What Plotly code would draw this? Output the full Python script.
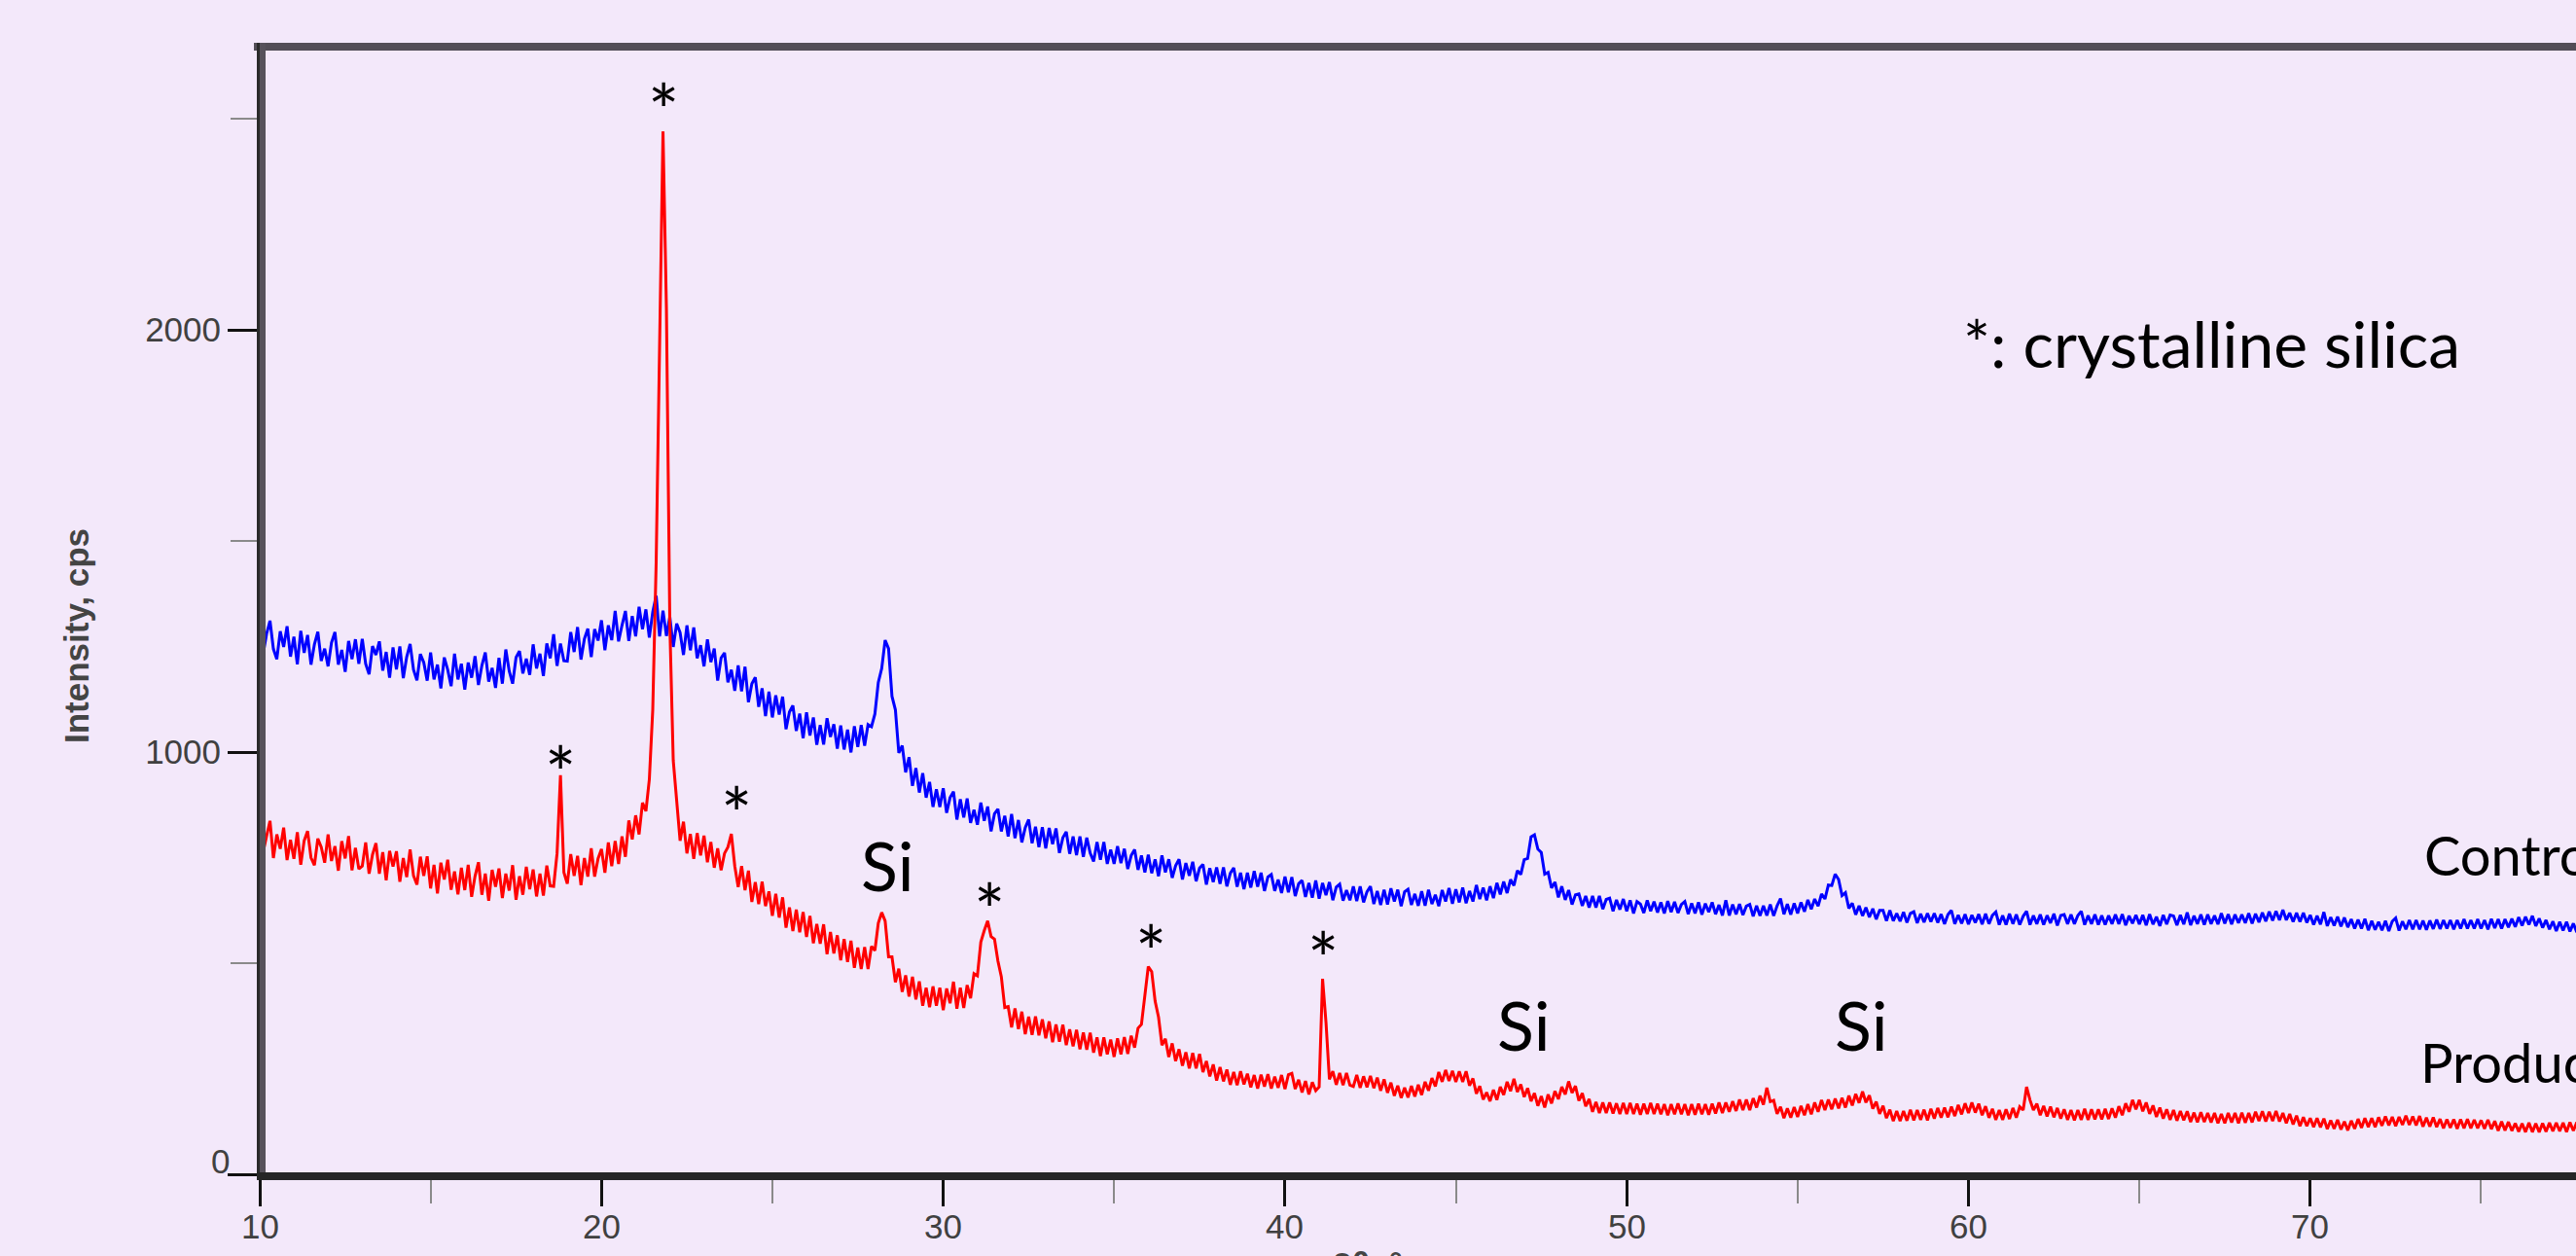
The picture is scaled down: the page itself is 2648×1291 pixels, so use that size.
import plotly.graph_objects as go

# ---------------- data (2theta scan 10.0 .. 78.0, step 0.1 deg) ----------------
THETA_START = 10.0
THETA_STEP = 0.1

ctrl_10s = [
1302,1232,1280,1311,1244,1220,1286,1249,1298,1226,
1273,1208,1287,1235,1277,1207,1255,1285,1216,1245,
1203,1259,1284,1207,1242,1190,1263,1220,1267,1209,
1268,1209,1184,1251,1230,1262,1193,1237,1176,1248,
1196,1250,1175,1225,1256,1195,1170,1232,1212,1169,
1236,1172,1207,1151,1224,1195,1156,1233,1172,1209,
1148,1212,1176,1227,1159,1205,1236,1167,1199,1152,
1223,1162,1243,1192,1162,1224,1239,1186,1221,1183,
1255,1198,1233,1180,1257,1222,1279,1204,1257,1216,
1215,1284,1237,1296,1219,1268,1292,1225,1291,1264]
ctrl_20s = [
1312,1241,1300,1265,1334,1262,1300,1334,1263,1322,
1274,1344,1291,1338,1271,1332,1370,1274,1335,1275,
1320,1249,1304,1283,1230,1300,1241,1295,1222,1253,
1203,1267,1213,1245,1169,1223,1235,1165,1195,1145,
1205,1144,1202,1118,1162,1177,1107,1151,1085,1143,
1082,1134,1089,1131,1054,1095,1110,1050,1091,1033,
1094,1039,1082,1017,1064,1018,1080,1036,1066,1008,
1063,1006,1053,999,1061,1012,1064,1015,1065,1060,
1090,1165,1198,1265,1245,1132,1100,998,1015,952,
988,920,962,904,950,892,929,870,912,870]
ctrl_30s = [
914,856,892,906,840,888,845,890,832,863,
828,880,837,871,812,854,865,812,849,800,
853,796,839,786,821,840,784,823,775,822,
772,820,782,819,761,797,811,759,800,756,
800,752,797,761,741,787,745,787,735,769,
735,777,737,771,723,755,769,721,755,715,
757,713,746,706,755,715,746,702,731,746,
698,737,707,740,694,725,734,686,725,692,
727,688,727,682,713,726,681,714,675,714,
679,718,681,714,671,704,710,671,698,666]
ctrl_40s = [
705,668,704,659,688,696,657,690,655,696,
653,690,661,692,649,680,687,648,673,649,
682,647,682,644,669,682,640,671,638,674,
639,677,646,674,635,669,675,638,664,636,
670,636,674,640,662,635,673,646,678,641,
675,644,679,642,671,646,685,652,679,649,
682,654,690,663,693,666,698,684,719,710,
745,748,799,804,770,762,711,715,678,692,
656,682,650,673,639,662,664,636,659,632,
659,632,659,628,651,654,623,650,627,652]
ctrl_50s = [
623,649,618,646,640,619,649,623,646,620,
644,618,647,621,645,619,639,646,616,642,
618,644,615,641,621,644,616,638,613,649,
613,639,616,640,614,635,639,611,636,612,
636,613,639,612,636,653,616,640,615,642,
618,644,622,650,628,652,635,664,652,685,
684,711,698,660,667,630,642,615,636,612,
632,609,629,604,625,625,600,625,600,618,
599,621,596,618,622,595,617,597,618,598,
618,596,616,593,615,625,593,614,594,616]
ctrl_60s = [
592,614,596,616,592,617,593,613,621,591,
613,591,617,593,615,591,611,623,591,613,
593,615,591,613,595,617,589,613,615,593,
615,593,613,623,591,613,593,615,591,613,
591,613,593,615,593,616,590,612,594,614,
592,614,590,616,592,610,588,614,592,614,
612,590,614,592,620,590,612,593,615,591,
615,593,613,592,618,594,616,592,615,595,
615,595,618,594,617,597,620,599,622,601,
623,602,626,602,619,598,619,598,619,596]
ctrl_70s = [
614,591,612,592,621,588,609,589,610,587,
608,585,604,582,603,582,605,578,600,579,
598,578,600,576,599,607,577,599,580,602,
580,602,580,601,579,601,581,603,581,602,
582,602,580,602,582,604,582,602,582,604,
582,602,580,605,583,604,582,604,585,605,
586,609,589,610,591,612,588,606,584,602,
580,599,576,598,577,598,575,594,573,593,
584]

prod_10s = [
830,763,801,837,749,805,771,821,744,792,
747,810,733,790,813,750,732,795,775,738,
805,742,777,719,789,748,801,720,773,723,
730,786,712,757,784,712,763,696,766,729,
765,693,749,704,769,707,686,752,707,753,
677,733,665,738,698,745,674,717,663,726,
673,733,657,706,739,662,712,648,721,681,
724,654,712,672,732,650,706,662,728,675,
722,658,712,660,731,683,682,760,945,715,
688,758,707,754,685,749,705,772,705,748]
prod_20s = [
770,714,786,730,789,735,800,752,838,793,
850,805,880,860,935,1100,1450,1950,2470,2050,
1300,980,890,790,835,760,806,747,808,755,
802,739,787,726,772,720,760,775,806,730,
680,730,673,719,645,692,640,693,635,670,
612,664,608,656,584,632,576,627,573,621,
562,612,547,593,546,592,521,574,523,566,
507,557,503,553,489,537,486,538,486,540,
530,595,620,600,515,515,455,487,432,471,
421,468,414,457,399,442,396,445,399,442]
prod_30s = [
389,440,405,456,392,442,394,448,417,475,
470,550,577,600,563,557,505,468,395,397,
348,393,344,385,332,373,330,374,329,367,
322,362,313,355,314,354,306,343,303,342,
296,336,295,335,288,324,280,324,284,319,
278,322,284,325,285,328,300,346,355,430,
492,480,410,372,306,321,278,310,268,296,
257,289,251,287,251,285,242,268,232,260,
222,254,220,248,212,242,211,244,213,238,
206,235,203,236,208,237,203,231,205,235]
prod_40s = [
202,236,239,202,224,194,221,189,218,198,
207,463,360,225,244,212,240,211,240,211,
208,235,205,232,206,233,204,229,198,225,
193,217,186,210,181,205,182,209,184,212,
188,219,198,228,208,242,219,247,221,245,
219,244,219,244,210,227,191,209,177,194,
173,200,176,207,188,219,197,226,195,213,
183,204,173,192,162,185,158,189,168,197,
178,207,189,220,193,209,174,192,161,178,
148,171,145,170,145,170,144,168,143,169]
prod_50s = [
143,169,143,167,141,167,143,169,143,167,
142,166,140,166,142,168,142,166,140,166,
141,167,142,166,141,167,144,170,145,170,
148,173,150,177,152,177,152,180,158,186,
165,205,172,175,143,160,133,156,134,159,
136,162,140,166,142,170,148,176,152,177,
154,179,156,181,158,186,163,190,169,196,
170,187,155,172,143,162,133,153,126,150,
126,150,127,153,128,152,129,153,128,155,
132,157,134,158,135,160,138,164,142,168]
prod_60s = [
145,170,146,167,140,161,134,155,129,152,
129,154,131,157,134,160,152,207,176,152,
167,140,162,137,160,135,157,132,154,129,
152,128,152,129,155,129,154,130,154,130,
155,131,156,134,161,140,168,148,176,154,
176,149,170,143,163,136,158,132,154,129,
152,127,150,128,149,124,146,123,147,124,
145,123,145,121,143,121,145,123,145,121,
146,122,145,123,148,126,149,125,148,126,
150,125,145,121,143,118,139,114,135,114]
prod_70s = [
133,112,133,111,132,107,128,108,129,106,
125,104,127,108,131,110,133,112,133,112,
135,115,137,116,136,114,136,117,139,117,
137,116,138,113,134,113,135,112,131,109,
130,110,130,108,130,109,131,109,129,109,
128,108,129,107,126,103,125,104,124,103,
121,101,120,100,122,100,120,100,121,101,
122,102,122,102,122,100,123,103,123,103,
113]

x_tickvals = [10, 20, 30, 40, 50, 60, 70, 80]
x_ticktext = ["10", "20", "30", "40", "50", "60", "70", "80"]
x_minor = [15, 25, 35, 45, 55, 65, 75]
y_tickvals = [0, 1000, 2000]
y_ticktext = ["", "1000", "2000"]
y_minor = [500, 1500, 2500]

# annotation labels (x in deg, y in cps)
star_marks = [(21.81, 2560), (18.80, 991), (23.95, 896), (31.35, 666), (36.07, 569), (41.11, 551)]
si_marks = [(28.37, 733), (46.98, 355), (56.85, 355)]

# ---------------- build ----------------
control = ctrl_10s + ctrl_20s + ctrl_30s + ctrl_40s + ctrl_50s + ctrl_60s + ctrl_70s
product = prod_10s + prod_20s + prod_30s + prod_40s + prod_50s + prod_60s + prod_70s
theta = [round(THETA_START + THETA_STEP * i, 1) for i in range(len(control))]

BG = "#f3e8fa"
W, H = 2648, 1291
ML, MR, MT, MB = 267, 0, 48, 84
PW, PH = W - ML - MR, H - MT - MB
X_MAX = 10 + PW / 35.13

fig = go.Figure()
fig.add_trace(go.Scatter(x=theta, y=control, mode="lines",
                         line=dict(color="#0000ff", width=3), name="Control"))
fig.add_trace(go.Scatter(x=theta, y=product, mode="lines",
                         line=dict(color="#ff0000", width=3), name="Product"))

tickfont = dict(family="Liberation Sans, Arial, sans-serif", size=35, color="#404040")
fig.update_layout(
    width=W, height=H,
    margin=dict(l=ML, r=MR, t=MT, b=MB, pad=0),
    paper_bgcolor=BG, plot_bgcolor=BG,
    showlegend=False,
    xaxis=dict(range=[10, X_MAX], tickmode="array", tickvals=x_tickvals,
               ticktext=x_ticktext, showticklabels=False,
               ticks="outside", ticklen=32, tickwidth=3,
               tickcolor="#111111", showline=False, showgrid=False, zeroline=False,
               minor=dict(tickmode="array", tickvals=x_minor, ticks="outside",
                          ticklen=29, tickwidth=2, tickcolor="#8a8a8a", showgrid=False)),
    yaxis=dict(range=[0, PH / 0.434], tickmode="array", tickvals=y_tickvals,
               ticktext=y_ticktext, ticks="outside", ticklen=32, tickwidth=3,
               tickcolor="#111111", showline=False, showgrid=False, zeroline=False,
               tickfont=tickfont,
               minor=dict(tickmode="array", tickvals=y_minor, ticks="outside",
                          ticklen=29, tickwidth=2, tickcolor="#8a8a8a", showgrid=False)),
)

px_x = 1.0 / PW
px_y = 1.0 / PH
shapes = [
    dict(type="line", xref="paper", yref="paper", x0=-6 * px_x, x1=1.02, y0=1, y1=1,
         line=dict(color="#534e57", width=8), layer="above"),
    dict(type="line", xref="paper", yref="paper", x0=3 * px_x, x1=3 * px_x,
         y0=-6 * px_y, y1=1 + 4 * px_y, line=dict(color="#57525b", width=6), layer="above"),
    dict(type="line", xref="paper", yref="paper", x0=-1.5 * px_x, x1=-1.5 * px_x,
         y0=-6 * px_y, y1=1 + 4 * px_y, line=dict(color="#2a2a2a", width=3), layer="above"),
    dict(type="line", xref="paper", yref="paper", x0=-3 * px_x, x1=1.02,
         y0=-2 * px_y, y1=-2 * px_y, line=dict(color="#262626", width=8), layer="above"),
]
fig.update_layout(shapes=shapes)

LBL = "Lato, Noto Sans, sans-serif"
ann = []
# x tick labels (placed as text just under the tick marks)
for tv, tt in zip(x_tickvals, x_ticktext):
    if tv <= X_MAX:
        ann.append(dict(x=tv, y=-(1260 - (H - MB)) * px_y, xref="x", yref="paper", text=tt,
                        showarrow=False, xanchor="center", yanchor="middle", font=tickfont))
for (sx, sy) in star_marks:
    ann.append(dict(x=sx, y=sy, xref="x", yref="y", text="*", showarrow=False,
                    xanchor="center", yanchor="middle", yshift=-17,
                    font=dict(family=LBL, size=76, color="#000000")))
for (sx, sy) in si_marks:
    ann.append(dict(x=sx, y=sy, xref="x", yref="y", text="Si", showarrow=False,
                    xanchor="center", yanchor="middle",
                    font=dict(family=LBL, size=70, color="#000000")))
ann.append(dict(x=59.80, y=1970, xref="x", yref="y", text="*: crystalline silica",
                showarrow=False, xanchor="left", yanchor="middle",
                font=dict(family=LBL, size=66, color="#000000")))
ann.append(dict(x=73.28, y=756, xref="x", yref="y", text="Control", showarrow=False,
                xanchor="left", yanchor="middle", font=dict(family=LBL, size=56, color="#000000")))
ann.append(dict(x=73.16, y=265, xref="x", yref="y", text="Product", showarrow=False,
                xanchor="left", yanchor="middle", font=dict(family=LBL, size=56, color="#000000")))
# axis titles and the raised zero label
ann.append(dict(x=(1406 - ML) * px_x, y=-(1299 - (H - MB)) * px_y, xref="paper", yref="paper",
                text="<b>2θ, °</b>", showarrow=False, xanchor="center", yanchor="middle",
                font=dict(family="Liberation Sans, Arial, sans-serif", size=35, color="#444444")))
ann.append(dict(x=(78 - ML) * px_x, y=((H - MB) - 654) * px_y, xref="paper", yref="paper",
                text="<b>Intensity, cps</b>", showarrow=False, textangle=-90,
                xanchor="center", yanchor="middle",
                font=dict(family="Liberation Sans, Arial, sans-serif", size=35, color="#444444")))
ann.append(dict(x=(238 - ML) * px_x, y=((H - MB) - 1193) * px_y, xref="paper", yref="paper",
                text="0", showarrow=False, xanchor="right", yanchor="middle", font=tickfont))
fig.update_layout(annotations=ann)

fig.write_html("out.html", config={"displayModeBar": False},
               post_script="document.body.style.margin='0';document.body.style.overflow='hidden';")
